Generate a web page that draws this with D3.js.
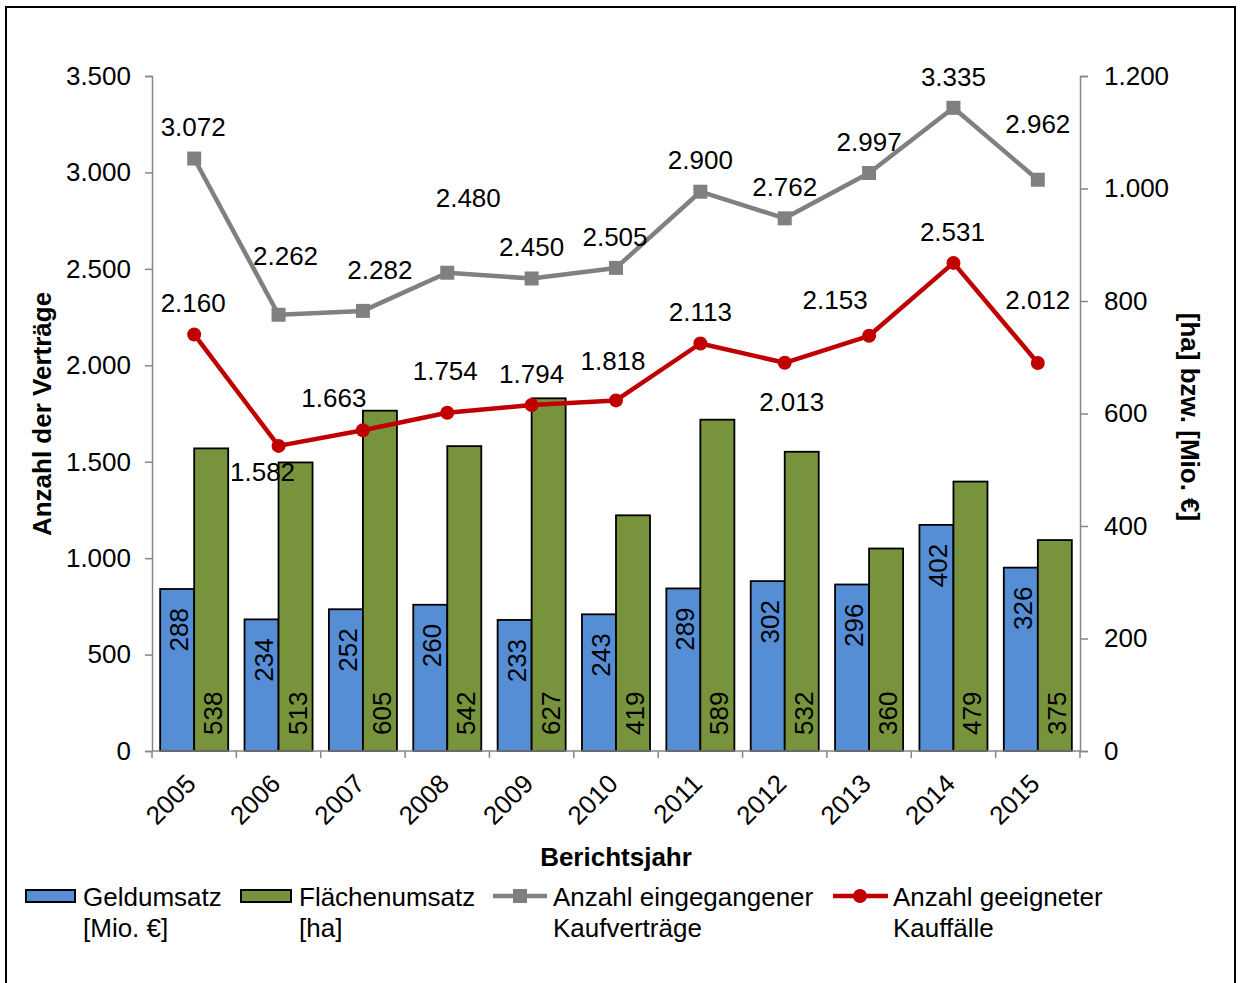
<!DOCTYPE html>
<html>
<head>
<meta charset="utf-8">
<script src="https://cdn.jsdelivr.net/npm/d3@7"></script>
<style>
  body { margin: 0; background: #fff; }
  text { font-family: "Liberation Sans", Arial, sans-serif; }
</style>
</head>
<body>
<div id="plot"></div>
<script>
// data
const years = ["2005","2006","2007","2008","2009","2010","2011","2012","2013","2014","2015"];
const geldumsatz = [288, 234, 252, 260, 233, 243, 289, 302, 296, 402, 326];          // Mio. €
const flaechenumsatz = [538, 513, 605, 542, 627, 419, 589, 532, 360, 479, 375];      // ha
const kaufvertraege = [3072, 2262, 2282, 2480, 2450, 2505, 2900, 2762, 2997, 3335, 2962];
const kauffaelle = [2160, 1582, 1663, 1754, 1794, 1818, 2113, 2013, 2153, 2531, 2012];
const leftTicks = [0, 500, 1000, 1500, 2000, 2500, 3000, 3500];
const rightTicks = [0, 200, 400, 600, 800, 1000, 1200];

// label nudges (px) for the line labels, as placed in the original
const grayLabelOffset = [[-1,-32],[7,-59],[17,-41],[21,-75],[0,-32],[-1,-31],[0,-32],[0,-31],[0,-31],[0,-31],[0,-56]];
const redLabelOffset = [[-1,-31],[-16,26],[-29,-32],[-2,-42],[0,-31],[-3,-39],[0,-31],[7,39],[-34,-36],[-1,-31],[0,-63]];

const W = 1240, H = 983;
const mLeft = 152, mRight = 1080, mTop = 76, mBottom = 751;
const fs = 26;
const blue = "#558ed5", green = "#77933c", gray = "#808080", red = "#c00000", axisCol = "#868686";

const loc = d3.formatLocale({decimal: ",", thousands: ".", grouping: [3], currency: ["", "€"]});
const fmt = loc.format(",d");

const svg = d3.select("#plot").append("svg")
    .attr("width", W).attr("height", H);

// frame
svg.append("rect")
    .attr("x", 6).attr("y", 7).attr("width", 1229).attr("height", 1000)
    .attr("fill", "none").attr("stroke", "#000").attr("stroke-width", 2);

// scales
const x = d3.scaleBand().domain(years).range([mLeft, mRight]).padding(0);
const xSub = d3.scaleBand().domain(["geld", "flaeche"]).range([0, x.bandwidth()])
    .paddingInner(0).paddingOuter(0.24);
const yL = d3.scaleLinear().domain([0, 3500]).range([mBottom, mTop]);
const yR = d3.scaleLinear().domain([0, 1200]).range([mBottom, mTop]);

// bars
const bars = svg.append("g").attr("id", "bars");
const barData = years.map((y, i) => ({year: y, geld: geldumsatz[i], flaeche: flaechenumsatz[i]}));

bars.selectAll("rect.geld").data(barData).enter().append("rect")
    .attr("class", "geld")
    .attr("x", d => x(d.year) + xSub("geld"))
    .attr("y", d => yR(d.geld))
    .attr("width", xSub.bandwidth())
    .attr("height", d => yR(0) - yR(d.geld))
    .attr("fill", blue).attr("stroke", "#000").attr("stroke-width", 1.8);

bars.selectAll("rect.flaeche").data(barData).enter().append("rect")
    .attr("class", "flaeche")
    .attr("x", d => x(d.year) + xSub("flaeche"))
    .attr("y", d => yR(d.flaeche))
    .attr("width", xSub.bandwidth())
    .attr("height", d => yR(0) - yR(d.flaeche))
    .attr("fill", green).attr("stroke", "#000").attr("stroke-width", 1.8);

// bar labels (rotated)
bars.selectAll("text.geld").data(barData).enter().append("text")
    .attr("transform", d => "translate(" + (x(d.year) + xSub("geld") + xSub.bandwidth() / 2 + 2) + "," + (yR(d.geld) + 19) + ") rotate(-90)")
    .attr("text-anchor", "end").attr("dominant-baseline", "central")
    .attr("font-size", fs).text(d => d.geld);

bars.selectAll("text.flaeche").data(barData).enter().append("text")
    .attr("transform", d => "translate(" + (x(d.year) + xSub("flaeche") + xSub.bandwidth() / 2 + 2) + "," + (yR(0) - 16) + ") rotate(-90)")
    .attr("text-anchor", "start").attr("dominant-baseline", "central")
    .attr("font-size", fs).text(d => d.flaeche);

// axes
const axL = svg.append("g").attr("transform", "translate(" + mLeft + ",0)")
    .call(d3.axisLeft(yL).tickValues(leftTicks).tickFormat(fmt).tickSize(7).tickPadding(14));
const axR = svg.append("g").attr("transform", "translate(" + mRight + ",0)")
    .call(d3.axisRight(yR).tickValues(rightTicks).tickFormat(fmt).tickSize(8).tickPadding(16));
[axL, axR].forEach(a => {
  a.select(".domain").attr("stroke", axisCol).attr("stroke-width", 1.5);
  a.selectAll(".tick line").attr("stroke", axisCol).attr("stroke-width", 1.5);
  a.selectAll(".tick text").attr("font-size", fs).attr("fill", "#000")
    .attr("font-family", "Liberation Sans, Arial, sans-serif");
});

// x axis (ticks at category boundaries)
const xAxis = svg.append("g").attr("id", "xAxis");
xAxis.append("line")
    .attr("x1", mLeft).attr("x2", mRight).attr("y1", mBottom).attr("y2", mBottom)
    .attr("stroke", axisCol).attr("stroke-width", 1.5);
const bounds = years.map(y => x(y)).concat([mRight]);
xAxis.selectAll("line.tk").data(bounds).enter().append("line")
    .attr("class", "tk")
    .attr("x1", d => d).attr("x2", d => d).attr("y1", mBottom).attr("y2", mBottom + 7)
    .attr("stroke", axisCol).attr("stroke-width", 1.5);
xAxis.selectAll("text").data(years).enter().append("text")
    .attr("transform", d => "translate(" + (x(d) + x.bandwidth() / 2 - 3) + "," + (mBottom + 28) + ") rotate(-45)")
    .attr("text-anchor", "end").attr("dominant-baseline", "central")
    .attr("font-size", fs).text(d => d);

// lines
const cx = d => x(d) + x.bandwidth() / 2;
const lineGen = d3.line().x((d, i) => cx(years[i])).y(d => yL(d));

svg.append("path").datum(kaufvertraege)
    .attr("d", lineGen).attr("fill", "none")
    .attr("stroke", gray).attr("stroke-width", 4.5).attr("stroke-linejoin", "round");
svg.append("g").selectAll("rect").data(kaufvertraege).enter().append("rect")
    .attr("x", (d, i) => cx(years[i]) - 7).attr("y", d => yL(d) - 7)
    .attr("width", 14).attr("height", 14).attr("fill", gray);

svg.append("path").datum(kauffaelle)
    .attr("d", lineGen).attr("fill", "none")
    .attr("stroke", red).attr("stroke-width", 4.5).attr("stroke-linejoin", "round");
svg.append("g").selectAll("circle").data(kauffaelle).enter().append("circle")
    .attr("cx", (d, i) => cx(years[i])).attr("cy", d => yL(d))
    .attr("r", 7).attr("fill", red);

// line labels
svg.append("g").selectAll("text").data(kaufvertraege).enter().append("text")
    .attr("x", (d, i) => cx(years[i]) + grayLabelOffset[i][0])
    .attr("y", (d, i) => yL(d) + grayLabelOffset[i][1])
    .attr("text-anchor", "middle").attr("dominant-baseline", "central")
    .attr("font-size", fs).text(d => fmt(d));

svg.append("g").selectAll("text").data(kauffaelle).enter().append("text")
    .attr("x", (d, i) => cx(years[i]) + redLabelOffset[i][0])
    .attr("y", (d, i) => yL(d) + redLabelOffset[i][1])
    .attr("text-anchor", "middle").attr("dominant-baseline", "central")
    .attr("font-size", fs).text(d => fmt(d));

// axis titles
svg.append("text")
    .attr("x", 616).attr("y", 857)
    .attr("text-anchor", "middle").attr("dominant-baseline", "central")
    .attr("font-size", fs).attr("font-weight", "bold").text("Berichtsjahr");
svg.append("text")
    .attr("transform", "translate(42,414) rotate(-90)")
    .attr("text-anchor", "middle").attr("dominant-baseline", "central")
    .attr("font-size", fs).attr("font-weight", "bold").text("Anzahl der Verträge");
svg.append("text")
    .attr("transform", "translate(1190,417) rotate(90)")
    .attr("text-anchor", "middle").attr("dominant-baseline", "central")
    .attr("font-size", fs).attr("font-weight", "bold").text("[ha] bzw. [Mio. €]");

// legend
const leg = svg.append("g").attr("id", "legend");
leg.append("rect").attr("x", 26).attr("y", 890).attr("width", 49).attr("height", 12)
    .attr("fill", blue).attr("stroke", "#000").attr("stroke-width", 2);
leg.append("rect").attr("x", 241).attr("y", 890).attr("width", 50).attr("height", 12)
    .attr("fill", green).attr("stroke", "#000").attr("stroke-width", 2);
leg.append("line").attr("x1", 493).attr("x2", 547).attr("y1", 896).attr("y2", 896)
    .attr("stroke", gray).attr("stroke-width", 4.5);
leg.append("rect").attr("x", 513).attr("y", 889).attr("width", 14).attr("height", 14).attr("fill", gray);
leg.append("line").attr("x1", 833).attr("x2", 888).attr("y1", 896).attr("y2", 896)
    .attr("stroke", red).attr("stroke-width", 4.5);
leg.append("circle").attr("cx", 860).attr("cy", 896).attr("r", 7).attr("fill", red);

const legendText = [
  {x: 83, lines: ["Geldumsatz", "[Mio. €]"]},
  {x: 299, lines: ["Flächenumsatz", "[ha]"]},
  {x: 553, lines: ["Anzahl eingegangener", "Kaufverträge"]},
  {x: 893, lines: ["Anzahl geeigneter", "Kauffälle"]}
];
legendText.forEach(item => {
  const t = leg.append("text").attr("font-size", fs);
  item.lines.forEach((l, j) => {
    t.append("tspan").attr("x", item.x).attr("y", 906 + j * 31).text(l);
  });
});
</script>
</body>
</html>
